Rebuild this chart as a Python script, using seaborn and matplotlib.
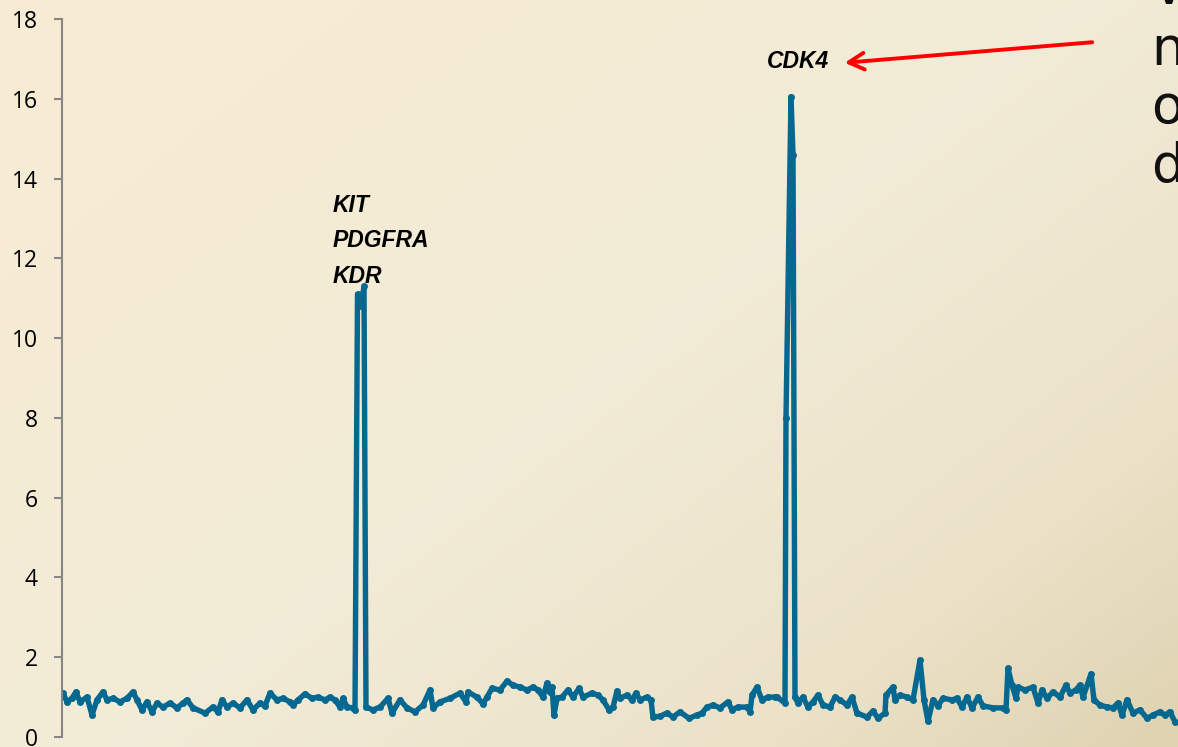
import numpy as np
import pandas as pd
import matplotlib
matplotlib.use("Agg")
import matplotlib.pyplot as plt
import seaborn as sns
from matplotlib.colors import LinearSegmentedColormap

# ---------------- data ----------------
position = [1, 5, 10, 14, 18, 25, 30, 35, 41, 45, 51, 58, 65, 71, 75, 80, 85, 90, 95, 101,
            108, 115, 121, 125, 131, 143, 151, 156, 160, 165, 171, 178, 185, 191, 198, 203,
            208, 215, 221, 228, 231, 236, 243, 250, 256, 263, 268, 273, 278, 281, 285, 291,
            293, 295.5, 299, 302, 304, 311, 318, 326, 330, 338, 345, 353, 361, 368, 371, 378,
            388, 398, 404, 406, 415, 421, 425, 430, 438, 445, 451, 458, 465, 471, 476, 481,
            485, 488, 490, 492, 495, 500, 506, 511, 517, 521, 530, 536, 541, 547, 551, 555,
            558, 565, 570, 574, 578, 585, 589, 591, 598, 605, 611, 618, 627, 635, 640, 645,
            651, 658, 666, 670, 676, 685, 688, 690, 695, 700, 706, 713, 715, 723, 724, 729,
            731, 733, 736, 741, 746, 751, 756, 761, 768, 773, 778, 785, 790, 795, 805, 811,
            816, 823, 824, 831, 833, 838, 845, 851, 858, 862, 866, 871, 876, 881, 890, 895,
            900, 905, 910, 916, 921, 931, 941, 944, 946, 950, 954, 956, 963, 971, 976, 980,
            985, 991, 998, 1004, 1008, 1014, 1018, 1021, 1029, 1032, 1038, 1045, 1051, 1056,
            1060, 1065, 1071, 1078, 1085, 1091, 1098, 1103, 1108, 1113]
ratio = [1.10, 0.88, 0.97, 1.13, 0.88, 1.00, 0.55, 0.93, 1.13, 0.93, 0.97, 0.88, 0.97, 1.13,
         0.93, 0.68, 0.88, 0.63, 0.85, 0.75, 0.85, 0.73, 0.85, 0.93, 0.73, 0.60, 0.75, 0.63,
         0.93, 0.75, 0.85, 0.73, 0.93, 0.68, 0.85, 0.78, 1.10, 0.93, 0.97, 0.88, 0.80, 0.93,
         1.08, 0.97, 1.00, 0.93, 1.00, 0.93, 0.75, 0.97, 0.75, 0.73, 0.68, 11.10, 10.80, 11.30,
         0.75, 0.68, 0.75, 0.97, 0.60, 0.93, 0.73, 0.63, 0.80, 1.18, 0.73, 0.88, 0.97, 1.10,
         0.88, 1.13, 1.00, 0.83, 1.00, 1.22, 1.18, 1.40, 1.30, 1.25, 1.18, 1.25, 1.18, 1.00,
         1.35, 1.13, 1.25, 0.55, 0.97, 1.00, 1.18, 1.00, 1.22, 1.00, 1.10, 1.05, 0.93, 0.68,
         0.75, 1.15, 0.97, 1.05, 0.93, 1.10, 0.93, 1.00, 0.93, 0.50, 0.52, 0.60, 0.50, 0.63,
         0.47, 0.55, 0.60, 0.75, 0.80, 0.73, 0.88, 0.68, 0.75, 0.75, 0.63, 1.05, 1.25, 0.93,
         1.00, 1.00, 1.00, 0.85, 8.00, 16.05, 14.60, 1.00, 0.85, 1.00, 0.75, 0.88, 1.05, 0.80,
         0.75, 1.00, 0.93, 0.80, 1.00, 0.60, 0.50, 0.65, 0.47, 0.60, 1.05, 1.25, 0.93, 1.05,
         1.00, 0.93, 1.93, 0.93, 0.40, 0.93, 0.78, 0.97, 0.93, 0.97, 0.75, 1.00, 0.73, 1.00,
         0.78, 0.73, 0.73, 0.68, 1.72, 1.30, 0.97, 1.25, 1.18, 1.25, 0.85, 1.18, 0.97, 1.13,
         1.00, 1.30, 1.10, 1.18, 1.30, 1.00, 1.58, 0.93, 0.80, 0.75, 0.73, 0.85, 0.55, 0.93,
         0.60, 0.68, 0.47, 0.55, 0.63, 0.55, 0.63, 0.38]
y_ticks = [0, 2, 4, 6, 8, 10, 12, 14, 16, 18]
gene_labels = ["KIT", "PDGFRA", "KDR"]
cdk4_label = "CDK4"
side_letters = ["V", "n", "o", "d"]

df = pd.DataFrame({"position": position, "ratio": ratio})

# ---------------- figure ----------------
sns.set_theme(style="white")
plt.rcParams["font.family"] = ["Lato", "DejaVu Sans"]

W, H = 1178, 747
fig = plt.figure(figsize=(W / 100, H / 100), dpi=100)

def fx(px):
    return px / W

def fy(py):
    return 1 - py / H

# gradient background
bg = fig.add_axes([0, 0, 1, 1], zorder=0)
gx, gy = np.meshgrid(np.linspace(0, 1, 300), np.linspace(0, 1, 200))
t = np.clip(0.55 * gx + 0.45 * gy, 0, 1)
cmap = LinearSegmentedColormap.from_list(
    "bg", [(0.0, "#f8ecd4"), (0.5, "#f2ebd7"), (0.8, "#ebe2c8"), (1.0, "#ded2b0")])
bg.imshow(t, cmap=cmap, aspect="auto", extent=[0, 1, 0, 1], origin="upper")
bg.set_axis_off()

ax = fig.add_axes([fx(62), 1 - 737 / H, 1 - fx(62), (737 - 19) / H], zorder=1)
ax.patch.set_alpha(0)

sns.lineplot(data=df, x="position", y="ratio", ax=ax, estimator=None, sort=False,
             color="#046891", linewidth=3.9, marker="o", markersize=5,
             markeredgewidth=0, solid_joinstyle="round", solid_capstyle="round")

ax.set_xlim(0, 1116)
ax.set_ylim(0, 18)
ax.set_yticks(y_ticks)
ax.set_xticks([])
ax.set_xlabel("")
ax.set_ylabel("")
for s in ["top", "right", "bottom"]:
    ax.spines[s].set_visible(False)
ax.spines["left"].set_color("#868686")
ax.spines["left"].set_linewidth(1.5)
ax.tick_params(axis="y", direction="out", length=5.5, width=1.5, color="#868686",
               pad=12, labelsize=17, labelcolor="black", left=True)
for lab in ax.get_yticklabels():
    lab.set_fontfamily(["Open Sans", "DejaVu Sans"])
    lab.set_fontsize(16.5)
ax.grid(False)

# gene labels
lab_kw = dict(fontsize=16.5, fontweight="bold", fontstyle="italic", color="black",
              ha="left", va="baseline", family=["Liberation Sans", "DejaVu Sans"])
for lbl, yv in zip(gene_labels, [13.16, 12.28, 11.38]):
    ax.text(271, yv, lbl, **lab_kw)
ax.text(705, 16.77, cdk4_label, **lab_kw)

# red arrow
fig.add_artist(matplotlib.patches.FancyArrowPatch(
    (fx(1095), fy(42)), (fx(842), fy(63)), transform=fig.transFigure,
    arrowstyle="->,head_length=11,head_width=6", color="#ff0000", linewidth=2.8,
    mutation_scale=1, zorder=5))

# side text (only the visible letters of the slide text)
for txt, base in zip(side_letters, [4, 65, 123, 182]):
    fig.text(fx(1151), fy(base), txt, fontsize=38, fontweight="normal",
             color="#111111", ha="left", va="baseline", zorder=5,
             family=["DejaVu Sans"])

fig.savefig("out.png", dpi=100)
